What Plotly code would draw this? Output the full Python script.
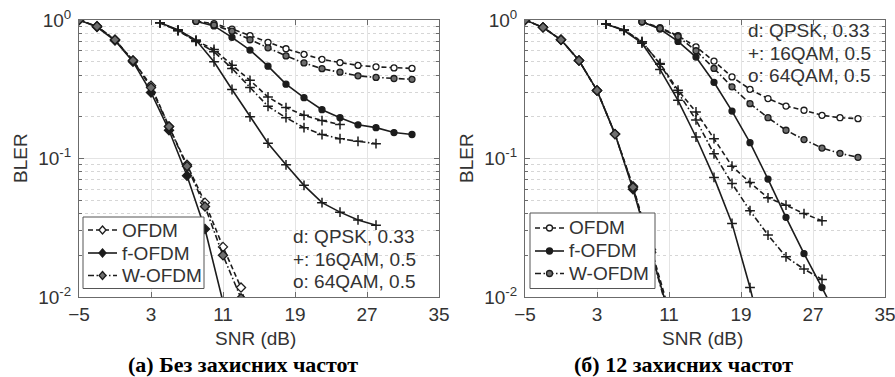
import plotly.graph_objects as go

# ---------------- data ----------------
# Panel (a): no guard subcarriers
A_SNR_QPSK_OFDM = [-5, -3, -1, 1, 3, 5, 7, 9, 11, 13, 15]
A_QPSK_OFDM = [1.0, 0.90, 0.72, 0.51, 0.335, 0.17, 0.09, 0.048, 0.023, 0.0117, 0.004]
A_SNR_QPSK_F = [-5, -3, -1, 1, 3, 5, 7, 9, 11]
A_QPSK_F = [1.0, 0.89, 0.71, 0.50, 0.30, 0.16, 0.075, 0.031, 0.0092]
A_SNR_QPSK_W = [-5, -3, -1, 1, 3, 5, 7, 9, 11, 13, 15]
A_QPSK_W = [1.0, 0.90, 0.72, 0.51, 0.325, 0.17, 0.088, 0.045, 0.020, 0.0098, 0.003]

A_SNR_16_OFDM = [4, 6, 8, 10, 12, 14, 16, 18, 20, 22, 24]
A_16_OFDM = [0.955, 0.838, 0.708, 0.613, 0.472, 0.367, 0.278, 0.233, 0.205, 0.188, 0.176]
A_SNR_16_F = [4, 6, 8, 10, 12, 14, 16, 18, 20, 22, 24, 26, 28]
A_16_F = [0.956, 0.85, 0.716, 0.499, 0.315, 0.20, 0.129, 0.09, 0.064, 0.048, 0.041, 0.036, 0.033]
A_SNR_16_W = [4, 6, 8, 10, 12, 14, 16, 18, 20, 22, 24, 26, 28]
A_16_W = [0.955, 0.84, 0.70, 0.59, 0.447, 0.325, 0.238, 0.197, 0.167, 0.149, 0.139, 0.133, 0.128]

A_SNR_64 = [8, 10, 12, 14, 16, 18, 20, 22, 24, 26, 28, 30, 32]
A_64_OFDM = [0.98, 0.94, 0.86, 0.77, 0.69, 0.62, 0.565, 0.52, 0.493, 0.47, 0.459, 0.451, 0.447]
A_64_F = [0.98, 0.906, 0.75, 0.607, 0.464, 0.344, 0.275, 0.225, 0.197, 0.175, 0.167, 0.154, 0.149]
A_64_W = [0.98, 0.92, 0.83, 0.72, 0.63, 0.55, 0.49, 0.445, 0.42, 0.395, 0.385, 0.378, 0.373]

# Panel (b): 12 guard subcarriers
B_SNR_QPSK = [-5, -3, -1, 1, 3, 5, 7, 9, 11]
B_QPSK_OFDM = [1.0, 0.885, 0.72, 0.51, 0.31, 0.15, 0.063, 0.022, 0.008]
B_QPSK_F = [1.0, 0.885, 0.72, 0.51, 0.31, 0.15, 0.060, 0.021, 0.0075]
B_QPSK_W = [1.0, 0.885, 0.72, 0.51, 0.31, 0.15, 0.062, 0.021, 0.0072]

B_SNR_16 = [4, 6, 8, 10, 12, 14, 16, 18, 20, 22, 24, 26, 28]
B_16_OFDM = [0.935, 0.846, 0.697, 0.485, 0.311, 0.217, 0.139, 0.088, 0.067, 0.052, 0.046, 0.040, 0.0355]
B_16_W = [0.935, 0.846, 0.697, 0.48, 0.30, 0.19, 0.108, 0.066, 0.042, 0.028, 0.0195, 0.0159, 0.0134]
B_SNR_16_F = [4, 6, 8, 10, 12, 14, 16, 18, 20, 22]
B_16_F = [0.935, 0.84, 0.68, 0.44, 0.263, 0.143, 0.073, 0.034, 0.0117, 0.0035]

B_SNR_64 = [8, 10, 12, 14, 16, 18, 20, 22, 24, 26, 28, 30, 32]
B_64_OFDM = [0.97, 0.88, 0.77, 0.64, 0.505, 0.388, 0.316, 0.271, 0.239, 0.223, 0.205, 0.197, 0.194]
B_64_W = [0.97, 0.87, 0.76, 0.60, 0.447, 0.329, 0.249, 0.197, 0.16, 0.137, 0.119, 0.109, 0.102]
B_SNR_64_F = [8, 10, 12, 14, 16, 18, 20, 22, 24, 26, 28, 30]
B_64_F = [0.97, 0.86, 0.70, 0.54, 0.355, 0.22, 0.13, 0.071, 0.0376, 0.0206, 0.0117, 0.0065]

X_TICKS = [-5, 3, 11, 19, 27, 35]
Y_TICKS = [0.01, 0.1, 1]
Y_TICKTEXT = ["10<sup>-2</sup>", "10<sup>-1</sup>", "10<sup>0</sup>"]
Y_MINOR = [k * 0.01 for k in range(2, 10)] + [k * 0.1 for k in range(2, 10)]

WAVEFORMS = ["OFDM", "f-OFDM", "W-OFDM"]
CAPTION_A = "(а) Без захисних частот"
CAPTION_B = "(б) 12 захисних частот"
NOTE = ["d: QPSK, 0.33", "+: 16QAM, 0.5", "o: 64QAM, 0.5"]

# ---------------- styling ----------------
INK = "#1c1c1c"
FONT = "Liberation Sans, Arial, sans-serif"
STYLE = {
    "OFDM": dict(dash="5px,3px", fill="white"),
    "f-OFDM": dict(dash="solid", fill=INK),
    "W-OFDM": dict(dash="6px,2.5px,1.5px,2.5px", fill="#6e6e6e"),
}

W, H = 895, 377


def px(v):
    return v / W


def py(v):
    return 1 - v / H


fig = go.Figure()


def add(xa, ya, x, y, wf, symbol):
    st = STYLE[wf]
    if symbol == "cross-thin":
        marker = dict(symbol="cross-thin", size=7, line=dict(color=INK, width=1.5))
    else:
        marker = dict(symbol=symbol, size=7 if symbol == "diamond" else 6,
                      color=st["fill"], line=dict(color=INK, width=1.3))
    fig.add_trace(go.Scatter(
        x=x, y=y, mode="lines+markers", xaxis=xa, yaxis=ya, name=wf,
        line=dict(color=INK, width=1.6, dash=st["dash"]),
        marker=marker, showlegend=False,
    ))


# panel a
add("x", "y", A_SNR_64, A_64_OFDM, "OFDM", "circle")
add("x", "y", A_SNR_64, A_64_F, "f-OFDM", "circle")
add("x", "y", A_SNR_64, A_64_W, "W-OFDM", "circle")
add("x", "y", A_SNR_16_OFDM, A_16_OFDM, "OFDM", "cross-thin")
add("x", "y", A_SNR_16_F, A_16_F, "f-OFDM", "cross-thin")
add("x", "y", A_SNR_16_W, A_16_W, "W-OFDM", "cross-thin")
add("x", "y", A_SNR_QPSK_OFDM, A_QPSK_OFDM, "OFDM", "diamond")
add("x", "y", A_SNR_QPSK_F, A_QPSK_F, "f-OFDM", "diamond")
add("x", "y", A_SNR_QPSK_W, A_QPSK_W, "W-OFDM", "diamond")

# panel b
add("x2", "y2", B_SNR_QPSK, B_QPSK_OFDM, "OFDM", "diamond")
add("x2", "y2", B_SNR_QPSK, B_QPSK_F, "f-OFDM", "diamond")
add("x2", "y2", B_SNR_QPSK, B_QPSK_W, "W-OFDM", "diamond")
add("x2", "y2", B_SNR_16, B_16_OFDM, "OFDM", "cross-thin")
add("x2", "y2", B_SNR_16_F, B_16_F, "f-OFDM", "cross-thin")
add("x2", "y2", B_SNR_16, B_16_W, "W-OFDM", "cross-thin")
add("x2", "y2", B_SNR_64, B_64_OFDM, "OFDM", "circle")
add("x2", "y2", B_SNR_64_F, B_64_F, "f-OFDM", "circle")
add("x2", "y2", B_SNR_64, B_64_W, "W-OFDM", "circle")

axis_common = dict(showline=True, linecolor="#6b6b6b", linewidth=1, mirror="ticks",
                   ticks="inside", ticklen=5, tickcolor="#6b6b6b", automargin=False,
                   ticklabeloverflow="allow",
                   gridcolor="#e4e4e4", gridwidth=1, zeroline=False,
                   tickfont=dict(family=FONT, size=19, color="#333333"))

xa = dict(axis_common, range=[-5, 35], tickmode="array", tickvals=X_TICKS)
ya = dict(axis_common, type="log", range=[-2, 0], tickmode="array",
          tickvals=Y_TICKS, ticktext=Y_TICKTEXT, ticklabelstandoff=3,
          minor=dict(tickmode="array", tickvals=Y_MINOR, ticks="inside", ticklen=3,
                     tickcolor="#6b6b6b", showgrid=True, gridcolor="#d6d6d6",
                     griddash="dot", gridwidth=1))

ydom = [py(297), py(20)]
fig.update_layout(
    width=W, height=H, margin=dict(l=0, r=0, t=0, b=0, autoexpand=False),
    paper_bgcolor="white", plot_bgcolor="white", showlegend=False,
    xaxis=dict(xa, domain=[px(79), px(439)], anchor="y"),
    yaxis=dict(ya, domain=ydom, anchor="x"),
    xaxis2=dict(xa, domain=[px(525), px(885)], anchor="y2"),
    yaxis2=dict(ya, domain=ydom, anchor="x2"),
)

txt_font = dict(family=FONT, size=19, color="#333333")
shapes = []
ann = []


def legend_box(x0, y0, x1, rows, symbol):
    """Hand-built legend box (pixel positions of the reference)."""
    y1 = rows[-1] + (rows[0] - y0)
    shapes.append(dict(type="rect", xref="paper", yref="paper", layer="above",
                       x0=px(x0), x1=px(x1), y0=py(y0), y1=py(y1),
                       line=dict(color="#555555", width=1), fillcolor="white"))
    for wf, ry in zip(WAVEFORMS, rows):
        st = STYLE[wf]
        shapes.append(dict(type="line", xref="paper", yref="paper", layer="above",
                           x0=px(x0 + 5), x1=px(x0 + 34), y0=py(ry), y1=py(ry),
                           line=dict(color=INK, width=1.6, dash=st["dash"])))
        cx = x0 + 19.5
        if symbol == "diamond":
            path = "M {} {} L {} {} L {} {} L {} {} Z".format(
                px(cx), py(ry - 4), px(cx + 3.5), py(ry), px(cx), py(ry + 4), px(cx - 3.5), py(ry))
            shapes.append(dict(type="path", xref="paper", yref="paper", layer="above", path=path,
                               fillcolor=st["fill"], line=dict(color=INK, width=1.3)))
        else:
            shapes.append(dict(type="circle", xref="paper", yref="paper", layer="above",
                               x0=px(cx - 3), x1=px(cx + 3), y0=py(ry - 3), y1=py(ry + 3),
                               fillcolor=st["fill"], line=dict(color=INK, width=1.3)))
        ann.append(dict(x=px(x0 + 37), y=py(ry), xref="paper", yref="paper", text=wf,
                        showarrow=False, xanchor="left", yanchor="middle", font=txt_font))


legend_box(83, 217, 204, [230, 253, 275.5], "diamond")
legend_box(530, 213, 655, [228, 251, 273.5], "circle")

for i, t in enumerate(NOTE):
    ann.append(dict(x=px(291), y=py(236.5 + 22.5 * i), xref="paper", yref="paper",
                    text=t, showarrow=False, xanchor="left", yanchor="middle", font=txt_font))
    ann.append(dict(x=px(746), y=py(30.5 + 22.5 * i), xref="paper", yref="paper",
                    text=t, showarrow=False, xanchor="left", yanchor="middle", font=txt_font))
for off in (0, 446):
    ann.append(dict(x=px(20 + off), y=py(158), xref="paper", yref="paper", text="BLER",
                    textangle=-90, showarrow=False, xanchor="center", yanchor="middle",
                    font=txt_font))
ann.append(dict(x=px(256), y=py(338), xref="paper", yref="paper", text="SNR (dB)",
                showarrow=False, xanchor="center", yanchor="middle", font=txt_font))
ann.append(dict(x=px(702), y=py(338), xref="paper", yref="paper", text="SNR (dB)",
                showarrow=False, xanchor="center", yanchor="middle", font=txt_font))
cap_font = dict(family="Liberation Serif, Times New Roman, serif", size=22, color="black")
ann.append(dict(x=px(243), y=py(364), xref="paper", yref="paper", text="<b>" + CAPTION_A + "</b>",
                showarrow=False, xanchor="center", yanchor="middle", font=cap_font))
ann.append(dict(x=px(683), y=py(364), xref="paper", yref="paper", text="<b>" + CAPTION_B + "</b>",
                showarrow=False, xanchor="center", yanchor="middle", font=cap_font))
fig.update_layout(annotations=ann, shapes=shapes)

# the page's default 8 px body margin would push the 895x377 figure off the window
fig.write_html("out.html", config={"displayModeBar": False},
               post_script="document.body.style.margin='0px';document.body.style.overflow='hidden';")
